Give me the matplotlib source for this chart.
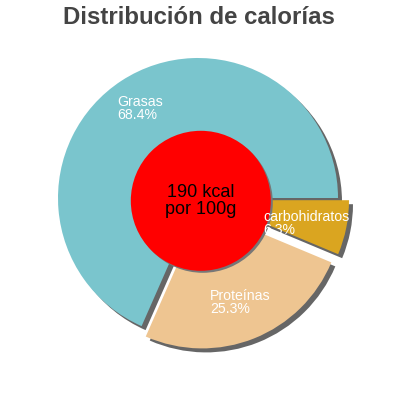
import matplotlib.pyplot as plt
from matplotlib.patches import Circle

plt.rcParams['font.family'] = ['Liberation Sans', 'DejaVu Sans']

# values
labels = ["Grasas", "Proteínas", "carbohidratos"]
percents = [68.4, 25.3, 6.3]
colors = ["#7AC5CD", "#EEC591", "#DAA520"]
explode = [0, 0.08, 0.08]
center_text = "190 kcal\npor 100g"
title = "Distribución de calorías"

W = H = 400
cx, cy, R = 198, 198, 140  # pie centre / radius in pixels

fig = plt.figure(figsize=(4, 4), dpi=100)
ax = fig.add_axes([0, 0, 1, 1])

sh = 4 / R  # shadow offset

# shadow layer
ax.pie(percents, colors=["#666666"] * 3, explode=explode, startangle=0,
       counterclock=True, radius=1, center=(sh, -sh), frame=True,
       wedgeprops=dict(linewidth=0))
# main pie
ax.pie(percents, colors=colors, explode=explode, startangle=0,
       counterclock=True, radius=1, center=(0, 0), frame=True,
       wedgeprops=dict(linewidth=0))
ax.set_xlim(-cx / R, (W - cx) / R)
ax.set_ylim(-(H - cy) / R, cy / R)
ax.set_aspect('equal')
ax.axis('off')

# centre circle with its shadow
ax.add_patch(Circle((0.02 + sh * 0.5, -0.02 - sh * 0.5), 0.5, color="#777777", lw=0, zorder=3))
ax.add_patch(Circle((0.02, -0.02), 0.5, color="#FF0000", lw=0, zorder=4))
ax.text(0.02, -0.02, center_text, ha='center', va='center', fontsize=13,
        color='black', zorder=5, linespacing=1.0)

# slice labels (pixel positions of the top-left corner)
label_pos = [(117, 95), (210, 289), (263, 210)]
for name, pct, (px, py) in zip(labels, percents, label_pos):
    ax.text((px - cx) / R, (cy - py) / R, f"{name}\n{pct}%", ha='left', va='top',
            fontsize=10.2, color='white', zorder=6, linespacing=0.9)

fig.text(0.497, 1 - 17 / H, title, ha='center', va='center', fontsize=17.3,
         fontweight='bold', color='#444444')

fig.savefig("out.png", dpi=100)
